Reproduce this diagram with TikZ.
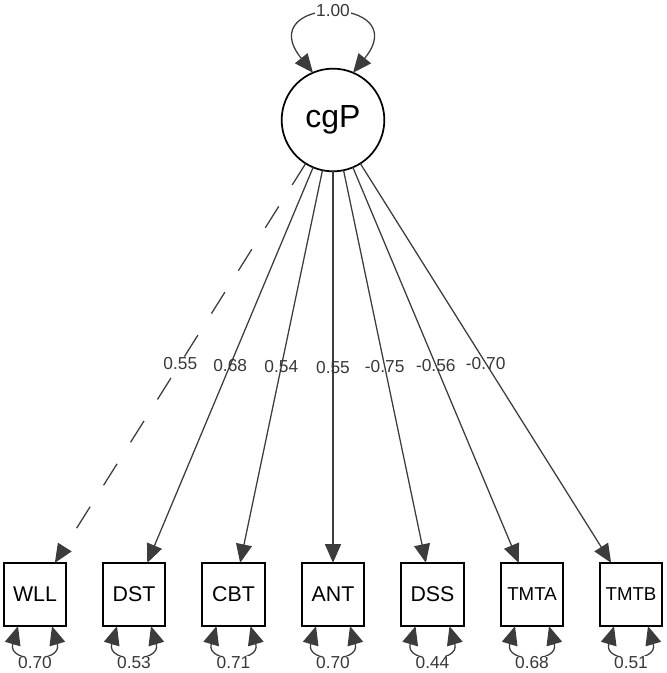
\documentclass[tikz,border=0pt]{standalone}
\usepackage{fontspec}
\setmainfont{Liberation Sans}
\usepackage{xcolor}
\usepackage{tikz}
\usetikzlibrary{arrows.meta,calc}
\definecolor{pathgray}{HTML}{3C3C3C}
\definecolor{labgray}{HTML}{383838}

\begin{document}
\begin{tikzpicture}[x=0.75pt, y=-0.75pt,
  latent/.style={circle, draw=black, line width=1.3pt, minimum size=77pt,
    inner sep=0pt, outer sep=0pt, font=\fontsize{24}{26}\selectfont},
  manifest/.style={rectangle, draw=black, line width=1.4pt, minimum width=47pt,
    minimum height=47.5pt, inner sep=0pt, outer sep=0pt},
  wide/.style={font=\fontsize{16}{18}\selectfont},
  narrow/.style={font=\fontsize{14}{16}\selectfont},
  solidpath/.style={},
  dashpath/.style={dash pattern=on 19pt off 19pt},
  loading/.style={draw=pathgray, line width=0.95pt,
    -{Triangle[length=14pt, width=12pt]}},
  varloop/.style={draw=pathgray, line width=0.95pt,
    {Triangle[length=14pt, width=12pt]}-{Triangle[length=14pt, width=12pt]}},
  est/.style={text=labgray, font=\fontsize{13}{15}\selectfont, inner sep=1pt},
]
  \useasboundingbox (0,0) rectangle (666,673);

  % latent factor and its variance
  \node[latent] (cgP) at (333,120) {cgP};
  \draw[varloop] (cgP.113) .. controls (250,-5) and (416,-5) .. (cgP.67);
  \node[est, fill=white] (vcgP) at (333,11) {1.00};

  % indicators, loadings and residual variances
  \foreach \n/\x/\l/\r/\f/\st in {WLL/35/0.55/0.70/wide/dashpath,
      DST/134/0.68/0.53/wide/solidpath, CBT/233.5/0.54/0.71/wide/solidpath,
      ANT/333/0.55/0.70/wide/solidpath, DSS/432.5/-0.75/0.44/wide/solidpath,
      TMTA/532/-0.56/0.68/narrow/solidpath, TMTB/631/-0.70/0.51/narrow/solidpath}{
    \node[manifest, \f] (\n) at (\x,594.5) {\n};
    \draw[loading, \st] (cgP) -- node[est] (l\n) {\l} (\n);
    \draw[varloop] ($(\n.south)+(-17,0)$) .. controls ($(\n.south)+(-28,37)$)
      and ($(\n.south)+(28,37)$) .. ($(\n.south)+(17,0)$);
    \node[est, fill=white] (r\n) at (\x,663) {\r};
  }
\end{tikzpicture}
\end{document}
